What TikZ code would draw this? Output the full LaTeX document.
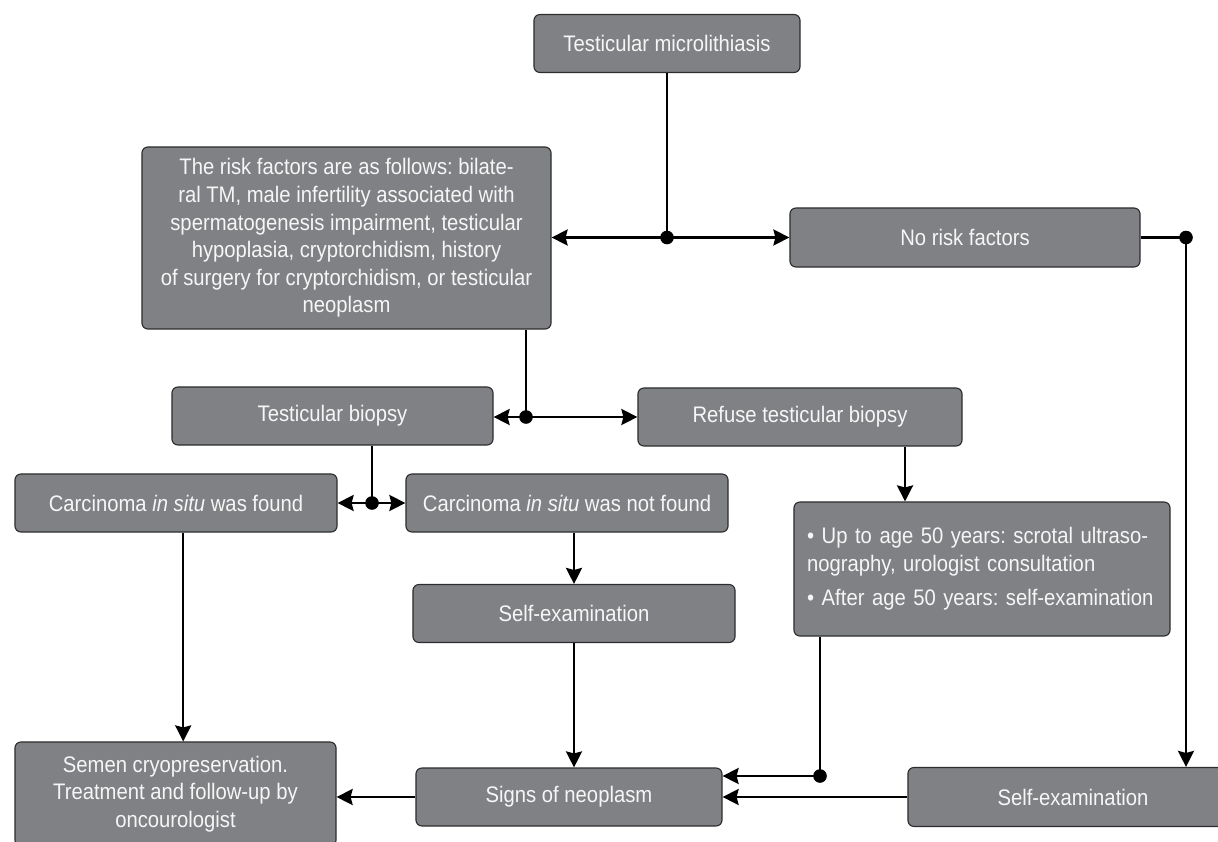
\documentclass[tikz,border=0pt]{standalone}
\usepackage{fontspec}
\setmainfont{Liberation Sans}[FakeStretch=0.9]
\usetikzlibrary{positioning,arrows.meta}
\definecolor{boxgrey}{RGB}{128,129,132}
\definecolor{boxline}{RGB}{45,45,45}
\definecolor{boxtext}{RGB}{246,246,246}
\frenchspacing

\begin{document}
\begin{tikzpicture}[
    x=0.025cm, y=-0.025cm,
    greybox/.style={rectangle, rounded corners=0.15cm, draw=boxline, line width=0.8pt, fill=boxgrey, text=boxtext, font=\fontsize{16}{19.6}\selectfont, align=center, inner sep=0pt, minimum height=1.45cm},
    jdot/.style={circle, fill=black, inner sep=0pt, minimum size=0.34cm},
    ->, >={Stealth[length=4mm,width=4mm,inset=0.5mm]}, line width=1.7pt,
    ]
\path[clip] (0,0) rectangle (1218,842);

%Nodes
\node[greybox, minimum width=6.65cm]  (TM)  at (667,43.5) {Testicular microlithiasis};
\node[greybox, minimum width=10.225cm, minimum height=4.55cm] (RF) at (346.5,238) {The risk factors are as follows: bilate-\\ral TM, male infertility associated with\\spermatogenesis impairment, testicular\\hypoplasia, cryptorchidism, history\\of surgery for cryptorchidism, or testicular\\neoplasm};
\node[greybox, minimum width=8.75cm, minimum height=1.475cm] (NRF) at (965,237.5) {No risk factors};
\node[greybox, minimum width=8.025cm] (TB)  at (332.5,416) {Testicular biopsy};
\node[greybox, minimum width=8.1cm]   (RTB) at (800,417) {Refuse testicular biopsy};
\node[greybox, minimum width=8.05cm]  (CF)  at (176,503) {Carcinoma \textit{in situ} was found};
\node[greybox, minimum width=8.05cm]  (CNF) at (567,503) {Carcinoma \textit{in situ} was not found};
\node[greybox, minimum height=3.35cm, text width=8.74cm, align=left, inner xsep=0.33cm] (AGE) at (982,569)
    {\textbullet\ Up to age 50 years: scrotal ultraso-\\nography, urologist consultation\\[5pt]\textbullet\ After age 50 years: self-examination};
\node[greybox, minimum width=8.05cm]  (SE1) at (574,613.5) {Self-examination};
\node[greybox, minimum width=8.025cm, minimum height=2.6cm] (SEM) at (175.5,794) {Semen cryopreservation.\\Treatment and follow-up by\\oncourologist};
\node[greybox, minimum width=7.65cm]  (SN)  at (569,797) {Signs of neoplasm};
\node[greybox, minimum width=8.25cm, minimum height=1.475cm] (SE2) at (1073,797) {Self-examination};

%Junctions
\node[jdot] (j1) at (667,237.5) {};
\node[jdot] (j2) at (1186,237.5) {};
\node[jdot] (j3) at (526,417) {};
\node[jdot] (j4) at (372,503) {};
\node[jdot] (j5) at (820,776) {};

%Lines
\draw[-] (TM.south -| j1) -- (j1.center);
\draw (j1.center) -- (j1 -| RF.east);
\draw (j1.center) -- (NRF.west);
\draw[-] (NRF.east) -- (j2.center);
\draw (j2.center) -- (j2 |- SE2.north);
\draw[-] (RF.south -| j3) -- (j3.center);
\draw (j3.center) -- (j3 -| TB.east);
\draw (j3.center) -- (RTB.west);
\draw ([xshift=2.625cm]RTB.south) -- ([xshift=2.625cm]RTB.south |- AGE.north);
\draw[-] (TB.south -| j4) -- (j4.center);
\draw (j4.center) -- (CF.east);
\draw (j4.center) -- (CNF.west);
\draw ([xshift=0.18cm]CF.south) -- ([xshift=0.18cm]CF.south |- SEM.north);
\draw (CNF.south -| SE1.north) -- (SE1.north);
\draw (SE1.south) -- (SE1.south |- SN.north);
\draw[-] (AGE.south -| j5) -- (j5.center);
\draw (j5.center) -- (j5 -| SN.east);
\draw (SE2.west) -- (SN.east);
\draw (SN.west) -- (SN.west -| SEM.east);
\end{tikzpicture}
\end{document}
